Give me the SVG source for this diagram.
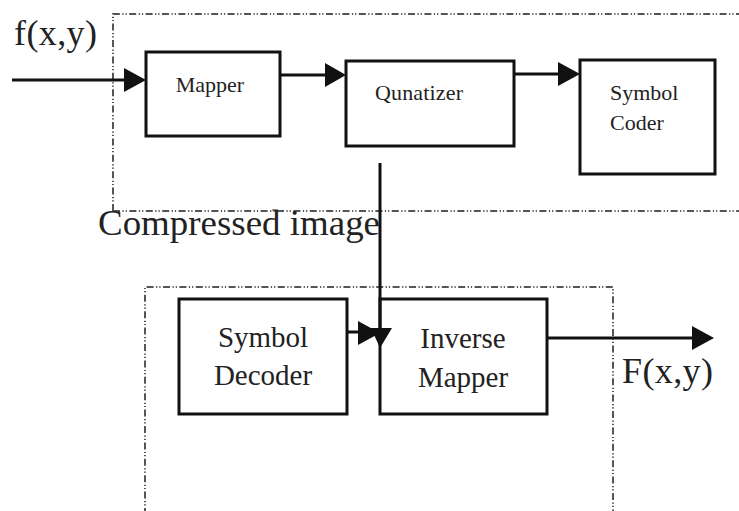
<svg xmlns="http://www.w3.org/2000/svg" width="739" height="511" viewBox="0 0 739 511">
  <style>
    .bg { fill: #ffffff; }
    .box { fill: none; stroke: #111; stroke-width: 3; }
    .frame { fill: none; stroke: #555; stroke-width: 2; stroke-dasharray: 7 2.5 1.2 2 1.2 2.5; }
    .wire { fill: none; stroke: #111; stroke-width: 3; }
    .head { fill: #111; }
    text { font-family: "Liberation Serif", "Times New Roman", serif; fill: #222; }
    .small { font-size: 22px; }
    .mid { font-size: 29px; }
    .big { font-size: 36px; }
  </style>
  <rect class="bg" x="0" y="0" width="739" height="511"/>

  <!-- encoder and decoder frames -->
  <g id="encoder-frame">
    <path class="frame" d="M113 211 V14 H745"/>
    <path class="frame" d="M113 211 H745"/>
  </g>
  <g id="decoder-frame">
    <path class="frame" d="M145 515 V287 H613 V515"/>
  </g>

  <!-- blocks -->
  <g id="mapper">
    <rect class="box" x="146" y="52" width="134" height="84"/>
    <text class="small" x="210" y="92" text-anchor="middle">Mapper</text>
  </g>
  <g id="quantizer">
    <rect class="box" x="346" y="61" width="168" height="85"/>
    <text class="small" x="375" y="100" textLength="88">Qunatizer</text>
  </g>
  <g id="symbol-coder">
    <rect class="box" x="580" y="60" width="135" height="114"/>
    <text class="small" x="610" y="100">Symbol</text>
    <text class="small" x="610" y="130">Coder</text>
  </g>
  <g id="symbol-decoder">
    <rect class="box" x="179" y="299" width="168" height="115"/>
    <text class="mid" x="263" y="347" text-anchor="middle">Symbol</text>
    <text class="mid" x="263" y="385" text-anchor="middle">Decoder</text>
  </g>
  <g id="inverse-mapper">
    <rect class="box" x="380" y="299" width="167" height="115"/>
    <text class="mid" x="463" y="348" text-anchor="middle">Inverse</text>
    <text class="mid" x="463" y="387" text-anchor="middle">Mapper</text>
  </g>

  <!-- connectors -->
  <g id="connectors">
    <path class="wire" d="M12 80 H126"/>
    <polygon class="head" points="124,68 146,80 124,92"/>
    <path class="wire" d="M280 75 H327"/>
    <polygon class="head" points="325,63 346,75 325,87"/>
    <path class="wire" d="M514 74 H560"/>
    <polygon class="head" points="558,62 580,74 558,86"/>
    <path class="wire" d="M380 163 V330"/>
    <polygon class="head" points="371,328 392,328 380,348"/>
    <path class="wire" d="M347 332 H360"/>
    <polygon class="head" points="358,321 380,333 358,345"/>
    <path class="wire" d="M547 338 H694"/>
    <polygon class="head" points="692,326 714,338 692,350"/>
  </g>

  <!-- signal labels -->
  <g id="labels">
    <text class="big" x="14" y="45" textLength="83">f(x,y)</text>
    <text class="big" x="98" y="235" textLength="282" lengthAdjust="spacingAndGlyphs">Compressed image</text>
    <text class="big" x="622" y="383" textLength="91">F(x,y)</text>
  </g>
</svg>
